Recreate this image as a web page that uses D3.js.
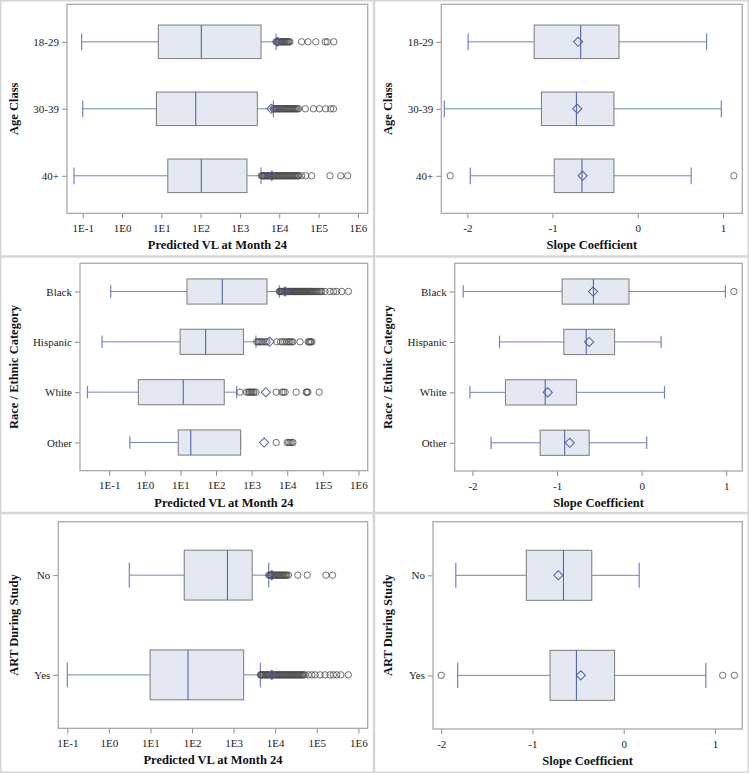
<!DOCTYPE html>
<html><head><meta charset="utf-8">
<script src="https://cdn.jsdelivr.net/npm/d3@7/dist/d3.min.js"></script>
<style>body{margin:0;background:#fff}</style>
</head><body>
<svg id="c" width="749" height="773"></svg>
<script>
// ---------- DATA ----------
const ageClasses = ["18-29", "30-39", "40+"];
const raceCategories = ["Black", "Hispanic", "White", "Other"];
const artCategories = ["No", "Yes"];

const vlTicks = [0.1, 1, 10, 100, 1000, 10000, 100000, 1000000];
const vlTickLabels = ["1E-1", "1E0", "1E1", "1E2", "1E3", "1E4", "1E5", "1E6"];
const slopeTicks = [-2, -1, 0, 1];
const slopeTickLabels = ["-2", "-1", "0", "1"];

// box stats: [whisker low, Q1, median, Q3, whisker high]
const vlAgeStats = [
  [0.094, 8.4, 104, 3440, 8300],
  [0.1, 7.5, 75, 2770, 7100],
  [0.06, 14.6, 104, 1510, 3440]
];
const vlAgeMeans = [9000, 6300, 6500];
const vlAgeOutliers = [
  [8300, 8700, 9200, 9700, 10200, 10800, 11400, 12000, 12700, 13400, 14200, 15000, 15800, 16700, 17600, 18600, 37000, 54000, 85000, 148000, 166000, 245000],
  [7100, 7500, 8000, 8500, 9000, 9600, 10200, 10800, 11500, 12200, 13000, 13800, 14700, 15600, 16600, 17600, 18700, 19900, 21200, 22500, 24000, 25500, 27100, 28800, 31000, 46000, 74000, 105000, 151000, 204000, 240000],
  [3500, 3700, 3900, 4100, 4300, 4500, 4800, 5100, 5400, 5700, 6000, 6300, 6700, 7100, 7500, 7900, 8400, 8900, 9400, 10000, 10600, 11200, 11900, 12600, 13300, 14100, 15000, 15900, 16800, 17800, 18900, 20000, 21200, 22500, 23800, 25200, 26700, 28300, 30000, 31500, 37000, 47000, 67000, 195000, 367000, 550000]
];

const slopeAgeStats = [
  [-1.99, -1.215, -0.67, -0.22, 0.807],
  [-2.27, -1.13, -0.72, -0.28, 0.98],
  [-1.965, -0.98, -0.655, -0.28, 0.626]
];
const slopeAgeMeans = [-0.70, -0.71, -0.647];
const slopeAgeOutliers = [[], [], [-2.20, 1.127]];

const vlRaceStats = [
  [0.11, 15.3, 150, 2700, 6000],
  [0.063, 9.8, 51, 590, 1320],
  [0.0245, 0.66, 12, 170, 380],
  [0.38, 8.7, 19.5, 490, 490]
];
const vlRaceMeans = [8700, 3200, 2500, 2240];
const vlRaceOutliers = [
  [6000, 6300, 6600, 6900, 7200, 7600, 8000, 8400, 8800, 9200, 9700, 10200, 10700, 11200, 11800, 12400, 13000, 13700, 14400, 15100, 15900, 16700, 17500, 18400, 19300, 20300, 21300, 22400, 23500, 24700, 26000, 27300, 28700, 30100, 31600, 33200, 34900, 36700, 38500, 40500, 42500, 44700, 47000, 49400, 52000, 56000, 61000, 66000, 72000, 80000, 88000, 93000, 115000, 158000, 200000, 245000, 340000, 525000],
  [1400, 1550, 1700, 1850, 2100, 2400, 2700, 5100, 6500, 7400, 8500, 9800, 11000, 12000, 13200, 14400, 22900, 39000, 41000, 43600, 46000, 49000],
  [470, 720, 800, 870, 940, 1000, 1100, 1170, 1320, 4900, 7100, 7800, 8700, 17800, 34000, 36000, 38000, 79000],
  [4900, 10000, 11000, 12000, 13200, 14400]
];

const slopeRaceStats = [
  [-2.11, -0.94, -0.57, -0.15, 0.99],
  [-1.68, -0.92, -0.655, -0.32, 0.23],
  [-2.03, -1.61, -1.14, -0.77, 0.27],
  [-1.78, -1.20, -0.91, -0.62, 0.06]
];
const slopeRaceMeans = [-0.575, -0.62, -1.11, -0.85];
const slopeRaceOutliers = [[1.09], [], [], []];

const vlArtStats = [
  [3.1, 65, 710, 2800, 7000],
  [0.10, 9.8, 80, 1740, 4400]
];
const vlArtMeans = [8300, 8300];
const vlArtOutliers = [
  [7000, 7400, 7800, 8200, 8700, 9200, 9700, 10200, 10800, 11400, 12100, 12800, 13500, 14300, 15100, 16000, 17000, 18000, 19000, 20900, 35000, 59000, 166000, 240000],
  [4400, 4600, 4800, 5000, 5300, 5600, 5900, 6200, 6500, 6800, 7200, 7600, 8000, 8400, 8800, 9300, 9800, 10300, 10800, 11400, 12000, 12600, 13300, 14000, 14700, 15500, 16300, 17100, 18000, 19000, 20000, 21000, 22100, 23300, 24500, 25800, 27200, 28600, 30100, 31700, 33400, 35100, 37000, 39000, 41000, 43200, 45500, 48000, 52000, 63000, 76000, 91000, 120000, 158000, 209000, 251000, 302000, 380000, 575000]
];

const slopeArtStats = [
  [-1.84, -1.067, -0.66, -0.35, 0.17],
  [-1.82, -0.807, -0.518, -0.10, 0.90]
];
const slopeArtMeans = [-0.716, -0.47];
const slopeArtOutliers = [[], [-2.0, 1.085, 1.213]];

const vlTitle = "Predicted VL at Month 24";
const slopeTitle = "Slope Coefficient";

// ---------- LAYOUT / STYLE ----------
const FONT = "'Liberation Serif','Times New Roman',serif";
const C = {
  frame: "#a9a9a9", boxFill: "#e3e8f2", boxStroke: "#858585",
  whisker: "#7384bd", median: "#5467ad", mean: "#4d60a8", outlier: "#4a4a4a",
  text: "#222", sep: "#d6d6d6"
};

const panels = [
  {cats: ageClasses, stats: vlAgeStats, means: vlAgeMeans, outliers: vlAgeOutliers, log: true,
   domain: [0.0398, 1.78e6], ticks: vlTicks, labels: vlTickLabels, xTitle: vlTitle, yTitle: "Age Class",
   px: 0, fx0: 67, fx1: 367.7, fy0: 4.3, fy1: 213.3, pad: 0.56},
  {cats: ageClasses, stats: slopeAgeStats, means: slopeAgeMeans, outliers: slopeAgeOutliers, log: false,
   domain: [-2.305, 1.226], ticks: slopeTicks, labels: slopeTickLabels, xTitle: slopeTitle, yTitle: "Age Class",
   px: 374, fx0: 441.3, fx1: 742.3, fy0: 4.3, fy1: 213.3, pad: 0.56},
  {cats: raceCategories, stats: vlRaceStats, means: vlRaceMeans, outliers: vlRaceOutliers, log: true,
   domain: [0.0151, 1.82e6], ticks: vlTicks, labels: vlTickLabels, xTitle: vlTitle, yTitle: "Race / Ethnic Category",
   px: 0, fx0: 80, fx1: 367.7, fy0: 263.3, fy1: 470.7, pad: 0.56},
  {cats: raceCategories, stats: slopeRaceStats, means: slopeRaceMeans, outliers: slopeRaceOutliers, log: false,
   domain: [-2.21, 1.19], ticks: slopeTicks, labels: slopeTickLabels, xTitle: slopeTitle, yTitle: "Race / Ethnic Category",
   px: 374, fx0: 454.7, fx1: 742.3, fy0: 263.3, fy1: 471, pad: 0.56},
  {cats: artCategories, stats: vlArtStats, means: vlArtMeans, outliers: vlArtOutliers, log: true,
   domain: [0.0607, 1.68e6], ticks: vlTicks, labels: vlTickLabels, xTitle: vlTitle, yTitle: "ART During Study",
   px: 0, fx0: 58.3, fx1: 367.7, fy0: 521.7, fy1: 728.3, pad: 0.536},
  {cats: artCategories, stats: slopeArtStats, means: slopeArtMeans, outliers: slopeArtOutliers, log: false,
   domain: [-2.09, 1.30], ticks: slopeTicks, labels: slopeTickLabels, xTitle: slopeTitle, yTitle: "ART During Study",
   px: 374, fx0: 433, fx1: 742.3, fy0: 521.7, fy1: 729, pad: 0.536}
];

const svg = d3.select("#c");

// panel separators
svg.append("line").attr("x1", 374).attr("x2", 374).attr("y1", 0).attr("y2", 773)
  .attr("stroke", C.sep).attr("stroke-width", 2.5);
[256.5, 513].forEach(yy => {
  svg.append("line").attr("x1", 0).attr("x2", 749).attr("y1", yy).attr("y2", yy)
    .attr("stroke", C.sep).attr("stroke-width", 2.5);
});
svg.append("rect").attr("x", 0.75).attr("y", 0.75).attr("width", 747.5).attr("height", 771.5)
  .attr("fill", "none").attr("stroke", C.sep).attr("stroke-width", 1.5);

function drawPanel(p) {
  const g = svg.append("g");
  const x = (p.log ? d3.scaleLog() : d3.scaleLinear()).domain(p.domain).range([p.fx0, p.fx1]);
  const y = d3.scalePoint().domain(p.cats).range([p.fy0, p.fy1]).padding(p.pad);
  const bh = y.step() * 0.5;
  const cap = bh * 0.5;

  // x axis
  const xa = g.append("g").attr("transform", `translate(0,${p.fy1})`)
    .call(d3.axisBottom(x).tickValues(p.ticks).tickFormat((d, i) => p.labels[i]).tickSizeOuter(0).tickSize(5).tickPadding(6));
  xa.select(".domain").remove();
  xa.selectAll("line").attr("stroke", "#8a8a8a");
  xa.selectAll("text").attr("font-family", FONT).attr("font-size", 11).attr("fill", C.text);

  // y axis
  const ya = g.append("g").attr("transform", `translate(${p.fx0},0)`)
    .call(d3.axisLeft(y).tickSize(5).tickPadding(3));
  ya.select(".domain").remove();
  ya.selectAll("line").attr("stroke", "#8a8a8a");
  ya.selectAll("text").attr("font-family", FONT).attr("font-size", 11).attr("fill", C.text);

  // frame
  g.append("rect").attr("x", p.fx0).attr("y", p.fy0)
    .attr("width", p.fx1 - p.fx0).attr("height", p.fy1 - p.fy0)
    .attr("fill", "none").attr("stroke", C.frame).attr("stroke-width", 1.3);

  // titles
  g.append("text").attr("x", (p.fx0 + p.fx1) / 2).attr("y", p.fy1 + 36)
    .attr("text-anchor", "middle").attr("font-family", FONT).attr("font-size", 12.5)
    .attr("font-weight", "bold").attr("fill", "#111").text(p.xTitle);
  g.append("text").attr("transform", `translate(${p.px + 18},${(p.fy0 + p.fy1) / 2}) rotate(-90)`)
    .attr("text-anchor", "middle").attr("font-family", FONT).attr("font-size", 12.5)
    .attr("font-weight", "bold").attr("fill", "#111").text(p.yTitle);

  p.cats.forEach((c, i) => {
    const s = p.stats[i];
    const cy = y(c);
    const bg = g.append("g");
    // whiskers
    bg.append("line").attr("x1", x(s[0])).attr("x2", x(s[1])).attr("y1", cy).attr("y2", cy)
      .attr("stroke", C.whisker).attr("stroke-width", 1);
    bg.append("line").attr("x1", x(s[3])).attr("x2", x(s[4])).attr("y1", cy).attr("y2", cy)
      .attr("stroke", C.whisker).attr("stroke-width", 1);
    [s[0], s[4]].forEach(v => {
      bg.append("line").attr("x1", x(v)).attr("x2", x(v)).attr("y1", cy - cap / 2).attr("y2", cy + cap / 2)
        .attr("stroke", C.whisker).attr("stroke-width", 1.2);
    });
    // box
    bg.append("rect").attr("x", x(s[1])).attr("y", cy - bh / 2)
      .attr("width", x(s[3]) - x(s[1])).attr("height", bh)
      .attr("fill", C.boxFill).attr("stroke", C.boxStroke).attr("stroke-width", 1.1);
    // median
    bg.append("line").attr("x1", x(s[2])).attr("x2", x(s[2])).attr("y1", cy - bh / 2).attr("y2", cy + bh / 2)
      .attr("stroke", C.median).attr("stroke-width", 1.1);
    // outliers
    bg.selectAll("circle.o").data(p.outliers[i]).join("circle").attr("class", "o")
      .attr("cx", d => x(d)).attr("cy", cy).attr("r", 3.2)
      .attr("fill", "none").attr("stroke", C.outlier).attr("stroke-width", 0.8);
    // mean diamond
    bg.append("path").attr("d", d3.symbol(d3.symbolSquare, 42)())
      .attr("transform", `translate(${x(p.means[i])},${cy}) rotate(45)`)
      .attr("fill", "none").attr("stroke", C.mean).attr("stroke-width", 1);
  });
}

panels.forEach(drawPanel);
</script>
</body></html>
